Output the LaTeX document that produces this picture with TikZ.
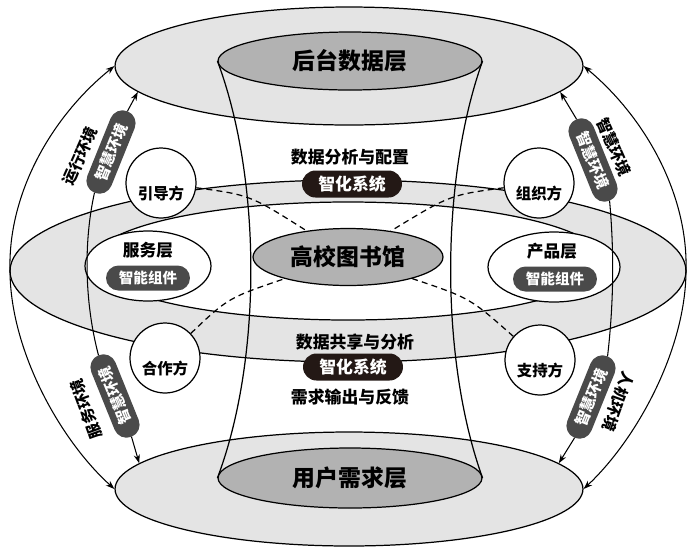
\documentclass[tikz,border=0pt]{standalone}
\usepackage{fontspec}
\setmainfont{Noto Sans CJK SC}
\setsansfont{Noto Sans CJK SC}
\usetikzlibrary{arrows.meta, shapes.geometric}
\definecolor{cBand}{HTML}{E4E4E4}
\definecolor{cLayer}{HTML}{B2B2B2}
\definecolor{cPillDark}{HTML}{231815}
\definecolor{cPill}{HTML}{4A4A4A}
\tikzset{
  ring/.style={
    draw=black, line width=0.7pt, fill=cBand, ellipse, inner sep=0pt
  },
  layerdisk/.style={
    draw=black, line width=0.7pt, fill=cLayer, ellipse, inner sep=0pt,
    font=\fontsize{13pt}{15pt}\selectfont\bfseries
  },
  unitdisk/.style={
    draw=black, line width=0.7pt, fill=white, ellipse, inner sep=0pt,
    minimum width=#1, minimum height=1.4cm
  },
  unitlabel/.style={
    font=\fontsize{9.5pt}{11pt}\selectfont\bfseries
  },
  rolecircle/.style={
    draw=black, line width=0.7pt, fill=white, circle, inner sep=0pt,
    minimum size=1.4cm, text height=19pt, text depth=0pt,
    font=\fontsize{8.8pt}{10pt}\selectfont\bfseries
  },
  syspill/.style={
    fill=cPillDark, text=white, rounded corners=0.27cm, inner sep=0pt,
    minimum width=2cm, minimum height=0.54cm,
    font=\fontsize{9.6pt}{11pt}\selectfont\bfseries
  },
  modpill/.style={
    fill=cPill, text=white, rounded corners=0.25cm, inner sep=0pt,
    minimum width=1.68cm, minimum height=0.5cm,
    font=\fontsize{8.3pt}{10pt}\selectfont\bfseries
  },
  envpill/.style={
    fill=cPill, text=white, rounded corners=0.26cm, inner sep=0pt,
    minimum width=1.76cm, minimum height=0.52cm, rotate=#1,
    font=\fontsize{8.6pt}{10pt}\selectfont\bfseries
  },
  envlabel/.style={
    font=\fontsize{8.8pt}{10pt}\selectfont\bfseries, rotate=#1
  },
  flowlabel/.style={
    font=\fontsize{9.6pt}{11pt}\selectfont\bfseries
  },
  thinline/.style={line width=0.6pt},
  linkarrow/.style={
    -{Stealth[length=5pt, width=3.5pt]}, line width=0.6pt
  },
  dashlink/.style={
    line width=0.7pt, dash pattern=on 3.4pt off 2.4pt
  },
}
\begin{document}
\begin{tikzpicture}[x=0.02cm, y=-0.02cm]
\useasboundingbox (0,0) rectangle (690,549);

% ---- Middle ring ----
\path[draw=black, line width=0.7pt, fill=cBand, even odd rule]
  (348,271) ellipse [x radius=338, y radius=91]
  (348,261) ellipse [x radius=255, y radius=59];

% service / product units on the ring
\node[unitdisk=2.52cm] (service) at (148,266) {};
\node[unitdisk=2.64cm] (product) at (554,267) {};

% ---- Top and bottom layers ----
\node[ring, minimum width=9.36cm, minimum height=2.36cm] (toporbit) at (349,66) {};
\node[layerdisk, minimum width=5.28cm, minimum height=1.16cm] (backend)
  at (350,61) {后台数据层};
\node[ring, minimum width=9.36cm, minimum height=2.28cm] (botorbit) at (349,489) {};
\node[layerdisk, minimum width=5.28cm, minimum height=1.2cm] (userneed)
  at (350,478) {用户需求层};

% hourglass
\draw[line width=0.7pt] (backend.west) .. controls (262,180) and (262,360)
  .. (userneed.west);
\draw[line width=0.7pt] (backend.east) .. controls (440,180) and (440,360)
  .. (userneed.east);

% ---- Roles ----
\node[rolecircle] (guide) at (161,183) {引导方};
\node[rolecircle] (organizer) at (539,183) {组织方};
\node[rolecircle] (partner) at (165,358) {合作方};
\node[rolecircle] (support) at (540,360) {支持方};

% ---- Library core ----
\node[layerdisk, minimum width=3.8cm, minimum height=1.14cm] (library)
  at (348,257) {高校图书馆};

% dashed links to the core
\draw[dashlink] (guide) .. controls (250,195) .. (library);
\draw[dashlink] (organizer) .. controls (450,195) .. (library);
\draw[dashlink] (partner) .. controls (228,298) .. (library);
\draw[dashlink] (support) .. controls (470,298) .. (library);

% ---- Flow labels ----
\node[flowlabel] (analysis) at (350,157) {数据分析与配置};
\node[syspill] (systop) at (352,184) {智化系统};
\node[flowlabel] (sharing) at (355,342) {数据共享与分析};
\node[syspill] (sysbot) at (353,367) {智化系统};
\node[flowlabel] (feedback) at (350,397) {需求输出与反馈};

% unit labels
\node[unitlabel] (servicename) at (148,250) {服务层};
\node[modpill] (servicemod) at (148,278) {智能组件};
\node[unitlabel] (productname) at (552,251) {产品层};
\node[modpill] (productmod) at (555,279) {智能组件};

% ---- Inner environment arcs ----
\node[envpill=68] (envTL) at (111,152) {智慧环境};
\node[envpill=-68] (envTR) at (593,160) {智慧环境};
\node[envpill=112] (envBL) at (115,396) {智慧环境};
\node[envpill=68] (envBR) at (591,397) {智慧环境};

\draw[linkarrow] (envTL.east) -- (toporbit.187);
\draw[thinline] (envTL.west) .. controls (84,240) and (84,300) .. (envBL.east);
\draw[linkarrow] (envBL.west) -- (botorbit.173);

\draw[linkarrow] (envTR.west) -- (toporbit.353);
\draw[thinline] (envTR.east) .. controls (614,250) and (614,300) .. (envBR.east);
\draw[linkarrow] (envBR.west) -- (botorbit.7);

% ---- Outer environment arcs ----
\coordinate (envL) at (10,270);
\coordinate (envR) at (686,270);
\draw[linkarrow] (envL) .. controls (8,195) and (50,118) .. (toporbit.west);
\draw[linkarrow] (envL) .. controls (10,350) and (60,440) .. (botorbit.west);
\draw[linkarrow] (envR) .. controls (688,195) and (646,118) .. (toporbit.east);
\draw[linkarrow] (envR) .. controls (686,350) and (636,440) .. (botorbit.east);

\node[envlabel=66] (runenv) at (80,156) {运行环境};
\node[envlabel=-66] (smartenv) at (614,147) {智慧环境};
\node[envlabel=110] (serveenv) at (86,409) {服务环境};
\node[envlabel=-110] (hmienv) at (618,402) {人机环境};

\end{tikzpicture}
\end{document}
